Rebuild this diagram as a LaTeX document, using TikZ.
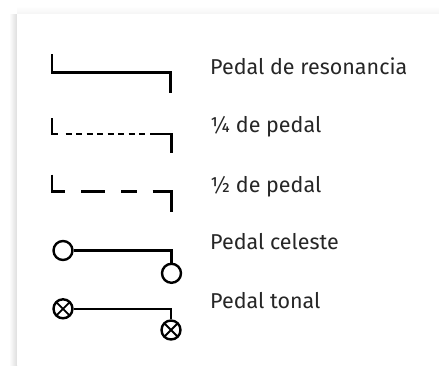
\documentclass[tikz,border=0pt]{standalone}
\usepackage{fontspec}
\setmainfont{Fira Sans}

\begin{document}
\begin{tikzpicture}[x=1pt, y=-1pt,
    pedal/.style={line width=2.5pt, line join=miter},
    knob/.style={circle, draw, line width=2.4pt, minimum size=19pt, inner sep=0pt},
    knobx/.style={knob, path picture={\draw[line width=1.8pt]
        (path picture bounding box.north west) -- (path picture bounding box.south east)
        (path picture bounding box.north east) -- (path picture bounding box.south west);}},
    legend/.style={anchor=base west, inner sep=0pt, text=black!85, font=\fontsize{21.5}{25}\selectfont}]
    \useasboundingbox (0,0) rectangle (439,365);
    % panel and its shadow
    \shade[left color=white, right color=black!13] (9,14) rectangle (17,365);
    \shade[top color=white, bottom color=black!4] (17,6) rectangle (439,14);
    \fill[white] (17,14) rectangle (439,365);

    % pedal de resonancia
    \coordinate (res-top) at (52,54);
    \coordinate (res-bend) at (52,72.5);
    \coordinate (res-end) at (170.5,92.5);
    \draw[pedal] (res-top) -- (res-bend) -| (res-end);

    % 1/4 de pedal
    \coordinate (cuarto-top) at (52,118);
    \coordinate (cuarto-bend) at (52,134);
    \coordinate (cuarto-foot) at (58,134);
    \coordinate (cuarto-from) at (65.5,134);
    \coordinate (cuarto-to) at (145.5,134);
    \coordinate (cuarto-corner) at (150,134);
    \coordinate (cuarto-end) at (171.5,153);
    \draw[pedal] (cuarto-top) -- (cuarto-bend) -- (cuarto-foot);
    \draw[pedal, dash pattern=on 6pt off 4.5pt] (cuarto-from) -- (cuarto-to);
    \draw[pedal] (cuarto-corner) -| (cuarto-end);

    % 1/2 de pedal
    \coordinate (medio-top) at (52,174.5);
    \coordinate (medio-bend) at (52,191.7);
    \coordinate (medio-foot) at (65,191.7);
    \coordinate (medio-from) at (81,191.7);
    \coordinate (medio-to) at (137,191.7);
    \coordinate (medio-corner) at (152.5,191.7);
    \coordinate (medio-end) at (171.5,211.7);
    \draw[pedal] (medio-top) -- (medio-bend) -- (medio-foot);
    \draw[pedal, dash pattern=on 24pt off 16pt on 16pt off 16pt] (medio-from) -- (medio-to);
    \draw[pedal] (medio-corner) -| (medio-end);

    % pedal celeste
    \node[knob] (cel-a) at (63,250.5) {};
    \node[knob] (cel-b) at (171.5,273.3) {};
    \draw[pedal] (cel-a) -| (cel-b);

    % pedal tonal
    \node[knobx] (ton-a) at (63,308.8) {};
    \node[knobx] (ton-b) at (171,330) {};
    \draw[pedal] (ton-a) -| (ton-b);

    % names
    \node[legend] (t-res) at (210,74) {Pedal de resonancia};
    \node[legend] (t-cuarto) at (210,132.3) {¼ de pedal};
    \node[legend] (t-medio) at (210,192.3) {½ de pedal};
    \node[legend] (t-cel) at (210,249.5) {Pedal celeste};
    \node[legend] (t-ton) at (210,308.3) {Pedal tonal};
\end{tikzpicture}
\end{document}
